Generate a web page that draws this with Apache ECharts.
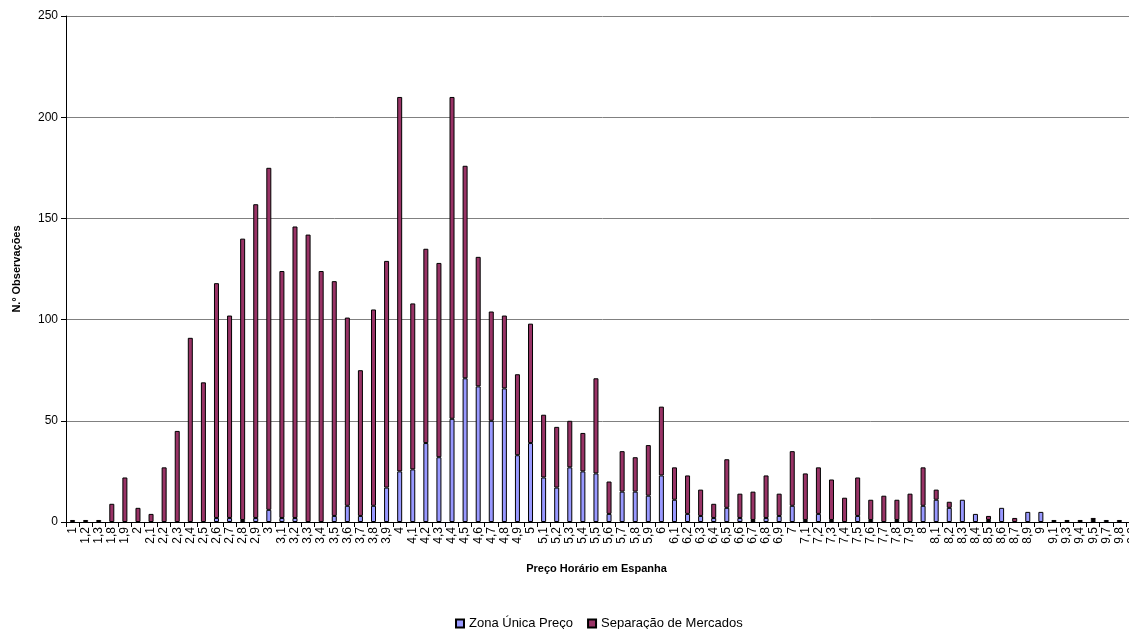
<!DOCTYPE html>
<html>
<head>
<meta charset="utf-8">
<script src="https://cdn.jsdelivr.net/npm/echarts@6/dist/echarts.min.js"></script>
<style>
  html, body { margin: 0; padding: 0; background: #fff; overflow: hidden; }
  #chart { width: 1141px; height: 629px; }
</style>
</head>
<body>
<div id="chart"></div>
<script>
// Preço horário (categorias do eixo X)
var categorias = ["1","1,2","1,3","1,8","1,9",
  "2","2,1","2,2","2,3","2,4","2,5","2,6","2,7","2,8","2,9",
  "3","3,1","3,2","3,3","3,4","3,5","3,6","3,7","3,8","3,9",
  "4","4,1","4,2","4,3","4,4","4,5","4,6","4,7","4,8","4,9",
  "5","5,1","5,2","5,3","5,4","5,5","5,6","5,7","5,8","5,9",
  "6","6,1","6,2","6,3","6,4","6,5","6,6","6,7","6,8","6,9",
  "7","7,1","7,2","7,3","7,4","7,5","7,6","7,7","7,8","7,9",
  "8","8,1","8,2","8,3","8,4","8,5","8,6","8,7","8,9",
  "9","9,1","9,3","9,4","9,5","9,7","9,8","9,9"];

// Zona Única Preço
var zonaUnica = [0,0,0,0,0,
  0,0,0,0,0,0,2,2,1,2,
  6,2,2,0,0,3,8,3,8,17,
  25,26,39,32,51,71,67,50,66,33,
  39,22,17,27,25,24,4,15,15,13,
  23,11,4,3,2,7,2,1,2,3,
  8,1,4,1,0,3,1,0,1,0,
  8,11,7,11,4,1,7,0,5,
  5,1,1,0,1,1,0,0];

// Separação de Mercados
var separacao = [1,1,1,9,22,
  7,4,27,45,91,69,116,100,139,155,
  169,122,144,142,124,116,93,72,97,112,
  185,82,96,96,159,105,64,54,36,40,
  59,31,30,23,19,47,16,20,17,25,
  34,16,19,13,7,24,12,14,21,11,
  27,23,23,20,12,19,10,13,10,14,
  19,5,3,0,0,2,0,2,0,
  0,0,0,1,1,0,1,1];

var yTicks = { min: 0, max: 250, interval: 50 };

function semZeros(arr) {
  return arr.map(function (v) { return v === 0 ? '-' : v; });
}

var fonte = '"Liberation Sans", Arial, sans-serif';

// o gráfico original está cortado à direita: a área é mais larga que a janela
var voChart = echarts.init(document.getElementById('chart'), null, { renderer: 'canvas' });

var voOption = {
  backgroundColor: '#ffffff',
  animation: false,
  textStyle: { fontFamily: fonte, color: '#000' },
  grid: {
    left: 66,
    top: 16,
    bottom: 107,
    width: 1073
  },
  legend: {
    left: 450,
    top: 612,
    icon: 'rect',
    itemWidth: 8,
    itemHeight: 8,
    itemGap: 14,
    textStyle: { fontSize: 13, fontFamily: fonte, color: '#000' },
    data: ['Zona Única Preço', 'Separação de Mercados']
  },
  xAxis: {
    type: 'category',
    data: categorias,
    name: 'Preço Horário em Espanha',
    nameLocation: 'middle',
    nameGap: 41,
    nameTextStyle: { fontSize: 11, fontWeight: 'bold', fontFamily: fonte, color: '#000', padding: [0, 12, 0, 0] },
    axisLine: { lineStyle: { color: '#000', width: 1 } },
    axisTick: { show: true, alignWithLabel: false, length: 5, lineStyle: { color: '#000' } },
    axisLabel: {
      interval: 0,
      rotate: 90,
      margin: 5,
      fontSize: 12,
      fontFamily: fonte,
      color: '#000'
    },
    splitLine: { show: false }
  },
  yAxis: {
    type: 'value',
    min: yTicks.min,
    max: yTicks.max,
    interval: yTicks.interval,
    name: 'N.º Observações',
    nameLocation: 'middle',
    nameGap: 44,
    nameTextStyle: { fontSize: 11, fontWeight: 'bold', fontFamily: fonte, color: '#000' },
    axisLine: { show: true, lineStyle: { color: '#000', width: 1 } },
    axisTick: { show: true, length: 5, lineStyle: { color: '#000' } },
    axisLabel: { fontSize: 12, margin: 8, fontFamily: fonte, color: '#000' },
    splitLine: { show: true, lineStyle: { color: '#808080', width: 1 } }
  },
  series: [
    {
      name: 'Zona Única Preço',
      type: 'bar',
      stack: 'total',
      barWidth: 5,
      itemStyle: { color: '#9999FF', borderColor: '#000', borderWidth: 1 },
      data: semZeros(zonaUnica)
    },
    {
      name: 'Separação de Mercados',
      type: 'bar',
      stack: 'total',
      barWidth: 5,
      itemStyle: { color: '#993366', borderColor: '#000', borderWidth: 1 },
      data: semZeros(separacao)
    }
  ]
};

voChart.setOption(voOption);

window.addEventListener('resize', function () {
  voChart.resize();
});
</script>
</body>
</html>
